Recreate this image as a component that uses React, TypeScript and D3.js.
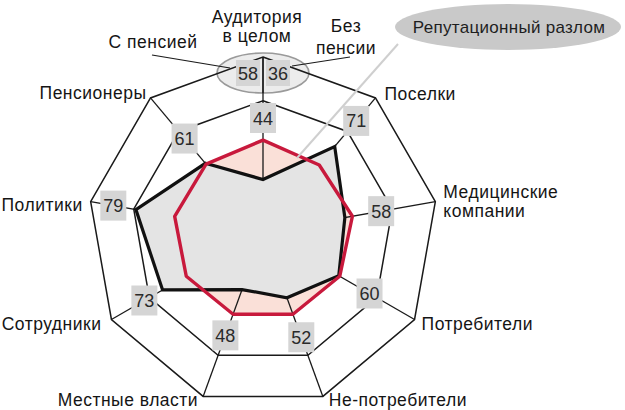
import * as React from "react"
import * as d3 from "d3"

// axes, clockwise from the top
const axes = [
  "Аудитория в целом",
  "Поселки",
  "Медицинские компании",
  "Потребители",
  "Не-потребители",
  "Местные власти",
  "Сотрудники",
  "Политики",
  "Пенсионеры",
]
const reputation = [44, 71, 58, 60, 52, 48, 73, 79, 61]
const expectation = [62, 60, 61.5, 60.5, 60, 60, 60.5, 61, 60.5]
const ringValues = [80, 100]
const audienceSplit = [
  { label: "С пенсией", value: 58 },
  { label: "Без пенсии", value: 36 },
]
const calloutText = "Репутационный разлом"

// label layout (radius of value box, axis label lines + offsets from outer vertex)
const boxRadius = [114, 145, 120, 123, 112, 110, 137, 152, 122]
const axisLabels = [
  { lines: ["Аудитория", "в целом"], dx: -6, dy: -40, anchor: "middle" },
  { lines: ["Поселки"], dx: 9, dy: -4, anchor: "start" },
  { lines: ["Медицинские", "компании"], dx: 8, dy: -10, anchor: "start" },
  { lines: ["Потребители"], dx: 7, dy: 4, anchor: "start" },
  { lines: ["Не-потребители"], dx: 6, dy: 4, anchor: "start" },
  { lines: ["Местные власти"], dx: -5, dy: 4, anchor: "end" },
  { lines: ["Сотрудники"], dx: -10, dy: 4, anchor: "end" },
  { lines: ["Политики"], dx: -8, dy: 3, anchor: "end" },
  { lines: ["Пенсионеры"], dx: -4, dy: -5, anchor: "end" },
]

const W = 625
const H = 410
const cx = 263
const cy = 232
const FONT = "Arial, 'Liberation Sans', sans-serif"
const LABEL_SIZE = 17.5
const SPACING = 0.5
const LINE_GAP = 19

export default function App(): React.JSX.Element {
  const svgRef = React.useRef<SVGSVGElement>(null)

  React.useEffect(() => {
    const svg = d3.select(svgRef.current)
    svg.selectAll("*").remove()

    const n = axes.length
    const r = d3.scaleLinear().domain([20, 100]).range([0, 175])
    const angle = d3
      .scaleLinear()
      .domain([0, n])
      .range([0, 2 * Math.PI])
    const pt = (i: number, v: number): [number, number] => [
      cx + r(v) * Math.sin(angle(i)),
      cy - r(v) * Math.cos(angle(i)),
    ]
    const ptR = (i: number, rad: number): [number, number] => [
      cx + rad * Math.sin(angle(i)),
      cy - rad * Math.cos(angle(i)),
    ]
    const closed = d3.line().curve(d3.curveLinearClosed)

    const g = svg.append("g")

    // audience ellipse behind the top vertex
    const top = pt(0, 100)
    g.append("ellipse")
      .attr("cx", cx)
      .attr("cy", top[1] + 16)
      .attr("rx", 46)
      .attr("ry", 20)
      .attr("fill", "#ececec")
      .attr("stroke", "#9a9a9a")
      .attr("stroke-width", 1.6)

    // pink fill of the expectation polygon
    g.append("path")
      .attr("d", closed(expectation.map((v, i) => pt(i, v))))
      .attr("fill", "#fae0d8")

    // frame
    ringValues.forEach((rv) => {
      g.append("path")
        .attr("d", closed(axes.map((_a, i) => pt(i, rv))))
        .attr("fill", "none")
        .attr("stroke", "#1a1a1a")
        .attr("stroke-width", 1.5)
    })
    axes.forEach((_a, i) => {
      const [x, y] = pt(i, 100)
      g.append("line")
        .attr("x1", cx)
        .attr("y1", cy)
        .attr("x2", x)
        .attr("y2", y)
        .attr("stroke", "#1a1a1a")
        .attr("stroke-width", 1.3)
    })

    // reputation polygon fill hides the spokes inside
    g.append("path")
      .attr("d", closed(reputation.map((v, i) => pt(i, v))))
      .attr("fill", "#e4e4e4")

    g.append("path")
      .attr("d", closed(reputation.map((v, i) => pt(i, v))))
      .attr("fill", "none")
      .attr("stroke", "#111")
      .attr("stroke-width", 3.2)
      .attr("stroke-linejoin", "miter")

    g.append("path")
      .attr("d", closed(expectation.map((v, i) => pt(i, v))))
      .attr("fill", "none")
      .attr("stroke", "#c8193c")
      .attr("stroke-width", 3.4)
      .attr("stroke-linejoin", "round")

    // value boxes
    const box = (x: number, y: number, text: string, w = 26, h = 30) => {
      g.append("rect")
        .attr("x", x - w / 2)
        .attr("y", y - h / 2)
        .attr("width", w)
        .attr("height", h)
        .attr("fill", "#d5d5d5")
      g.append("text")
        .attr("x", x)
        .attr("y", y + 6.5)
        .attr("text-anchor", "middle")
        .attr("font-family", FONT)
        .attr("font-size", 18)
        .attr("fill", "#2a2a2a")
        .text(text)
    }
    reputation.forEach((v, i) => {
      const [x, y] = ptR(i, boxRadius[i])
      box(x, y, String(v))
    })

    // split of the whole audience inside the ellipse
    box(cx - 15, top[1] + 16, String(audienceSplit[0].value), 24, 26)
    box(cx + 15, top[1] + 16, String(audienceSplit[1].value), 24, 26)
    g.append("line")
      .attr("x1", cx)
      .attr("y1", top[1])
      .attr("x2", cx)
      .attr("y2", top[1] + 36)
      .attr("stroke", "#1a1a1a")
      .attr("stroke-width", 1.3)

    // axis labels
    axisLabels.forEach((lab, i) => {
      const [x, y] = pt(i, 100)
      lab.lines.forEach((line, k) => {
        g.append("text")
          .attr("x", x + lab.dx)
          .attr("y", y + lab.dy + 6 + k * LINE_GAP)
          .attr("text-anchor", lab.anchor)
          .attr("font-family", FONT)
          .attr("font-size", LABEL_SIZE)
          .attr("letter-spacing", SPACING)
          .attr("fill", "#151515")
          .text(line)
      })
    })

    // split labels with leaders
    g.append("text")
      .attr("x", 153)
      .attr("y", 48)
      .attr("text-anchor", "middle")
      .attr("font-family", FONT)
      .attr("font-size", LABEL_SIZE)
      .attr("letter-spacing", SPACING)
      .attr("fill", "#151515")
      .text(audienceSplit[0].label)
    audienceSplit[1].label.split(" ").forEach((word, k) => {
      g.append("text")
        .attr("x", 346)
        .attr("y", 32 + k * 22)
        .attr("text-anchor", "middle")
        .attr("font-family", FONT)
        .attr("font-size", LABEL_SIZE)
        .attr("letter-spacing", SPACING)
        .attr("fill", "#151515")
        .text(word)
    })

    g.append("line")
      .attr("x1", 152)
      .attr("y1", 55)
      .attr("x2", 230)
      .attr("y2", 68)
      .attr("stroke", "#1a1a1a")
      .attr("stroke-width", 1.2)
    g.append("line")
      .attr("x1", 350)
      .attr("y1", 57)
      .attr("x2", 292)
      .attr("y2", 66)
      .attr("stroke", "#1a1a1a")
      .attr("stroke-width", 1.2)

    // callout
    g.append("line")
      .attr("x1", 398)
      .attr("y1", 44)
      .attr("x2", 297)
      .attr("y2", 158)
      .attr("stroke", "#cfcfcf")
      .attr("stroke-width", 2)
    g.append("ellipse")
      .attr("cx", 508)
      .attr("cy", 27)
      .attr("rx", 113)
      .attr("ry", 23)
      .attr("fill", "#c9c9c9")
    g.append("text")
      .attr("x", 509)
      .attr("y", 33)
      .attr("text-anchor", "middle")
      .attr("font-family", FONT)
      .attr("font-size", 17)
      .attr("letter-spacing", 0.3)
      .attr("fill", "#1e1e1e")
      .text(calloutText)
  }, [])

  return (
    <svg
      ref={svgRef}
      width={W}
      height={H}
      style={{ position: "absolute", left: 0, top: 0, background: "#fff" }}
    />
  )
}
